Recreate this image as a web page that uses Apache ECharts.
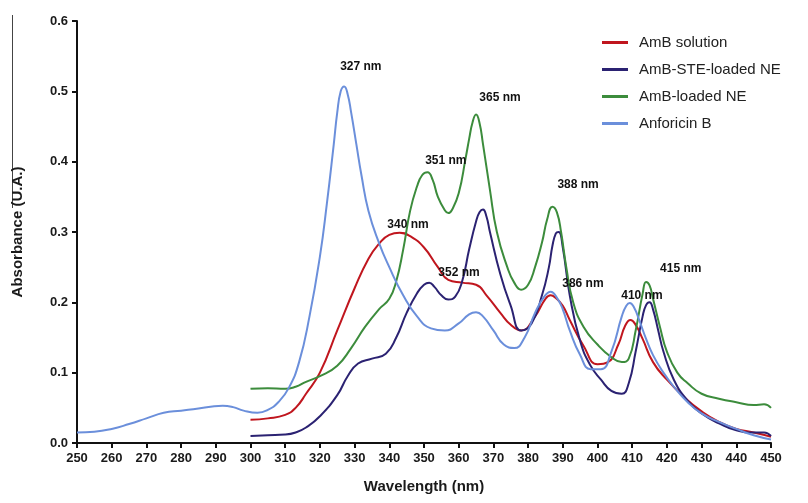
<!DOCTYPE html>
<html>
<head>
<meta charset="utf-8">
<script src="https://cdn.jsdelivr.net/npm/echarts@6/dist/echarts.min.js"></script>
<style>html,body{margin:0;padding:0;background:#fff;}#c{width:808px;height:503px;}</style>
</head>
<body>
<div id="c"></div>
<script>
var seriesNames = ['AmB solution', 'AmB-STE-loaded NE', 'AmB-loaded NE', 'Anforicin B'];
var seriesColors = ['#c0161e', '#2b2272', '#3c8c3c', '#6b8fdb'];

var ambSolution = [[300,0.033],[305,0.035],[310,0.04],[313,0.05],[316,0.07],[320,0.1],[325,0.16],[330,0.22],[334,0.262],[337,0.283],[340,0.296],[343,0.299],[346,0.294],[350,0.278],[354,0.25],[357,0.232],[361,0.228],[365,0.225],[368,0.21],[372,0.185],[375,0.168],[378,0.16],[382,0.18],[385,0.205],[386.5,0.21],[388,0.206],[390,0.195],[392,0.175],[396,0.138],[400,0.112],[403,0.115],[406,0.14],[408,0.167],[409.5,0.175],[411,0.168],[413,0.148],[416,0.115],[420,0.09],[425,0.065],[430,0.045],[435,0.03],[440,0.02],[445,0.015],[450,0.009]];
var ambSte = [[300,0.01],[305,0.011],[310,0.012],[313,0.015],[316,0.022],[320,0.038],[325,0.068],[328,0.095],[331,0.113],[335,0.12],[339,0.127],[342,0.15],[345,0.185],[348,0.213],[350,0.225],[351.5,0.228],[353,0.222],[355,0.21],[357,0.204],[359,0.208],[361,0.23],[363,0.275],[365,0.315],[366,0.328],[367,0.332],[368,0.322],[369,0.3],[372,0.24],[375,0.195],[378,0.16],[381,0.17],[384,0.21],[386,0.25],[387,0.28],[388,0.298],[388.8,0.3],[390,0.278],[392,0.21],[395,0.145],[398,0.11],[401,0.09],[404,0.074],[407,0.07],[409,0.085],[411,0.13],[413,0.18],[414,0.196],[415,0.2],[416,0.19],[417.5,0.16],[419,0.13],[422,0.09],[426,0.06],[430,0.042],[435,0.028],[440,0.018],[445,0.015],[448,0.015],[450,0.01]];
var ambNe = [[300,0.077],[305,0.078],[310,0.077],[313,0.08],[316,0.087],[320,0.095],[325,0.11],[329,0.135],[333,0.165],[337,0.19],[340,0.205],[342,0.23],[344,0.275],[346,0.33],[348,0.365],[349.5,0.381],[351,0.385],[352.5,0.374],[354,0.35],[356,0.331],[357,0.327],[358,0.331],[360,0.355],[362,0.405],[363,0.432],[364,0.456],[365,0.467],[366,0.455],[367,0.425],[369,0.36],[371,0.3],[374,0.25],[376,0.228],[378,0.218],[380,0.225],[382,0.25],[384,0.285],[385.5,0.318],[387,0.336],[388.3,0.328],[389.5,0.3],[391,0.25],[393,0.2],[396,0.165],[400,0.14],[404,0.122],[407,0.115],[409,0.12],[411,0.16],[413,0.212],[414,0.229],[415,0.224],[416,0.205],[418,0.165],[420,0.13],[423,0.1],[426,0.085],[430,0.07],[435,0.063],[440,0.058],[445,0.054],[448,0.055],[450,0.05]];
var anforicinB = [[250,0.015],[255,0.016],[260,0.02],[265,0.027],[270,0.035],[275,0.043],[280,0.046],[285,0.049],[289,0.052],[292,0.053],[295,0.051],[298,0.046],[302,0.043],[305,0.047],[308,0.058],[311,0.078],[314,0.115],[317,0.18],[320,0.265],[322,0.34],[324,0.425],[325,0.47],[326,0.5],[327,0.507],[328,0.496],[329,0.47],[330.5,0.425],[332,0.38],[334,0.33],[337,0.285],[340,0.25],[344,0.21],[348,0.18],[352,0.163],[356,0.16],[360,0.17],[363,0.183],[365,0.186],[367,0.18],[370,0.16],[373,0.14],[376,0.135],[379,0.15],[382,0.185],[384.5,0.207],[386.5,0.215],[388.5,0.205],[390,0.19],[392,0.16],[395,0.125],[398,0.105],[401,0.105],[404,0.13],[407,0.18],[408.3,0.195],[409.3,0.199],[410.5,0.193],[412,0.175],[414,0.148],[416,0.125],[419,0.1],[422,0.08],[426,0.058],[430,0.042],[435,0.03],[440,0.02],[445,0.011],[450,0.005]];

var annotations = [
  [331.8,0.535,'327 nm'],[371.9,0.491,'365 nm'],[356.3,0.401,'351 nm'],[394.4,0.367,'388 nm'],
  [345.4,0.31,'340 nm'],[360.1,0.242,'352 nm'],[395.8,0.226,'386 nm'],[412.8,0.209,'410 nm'],[424,0.248,'415 nm']
];

var xMin = 250, xMax = 450, xStep = 10;
var yMin = 0, yMax = 0.6, yStep = 0.1;

var allData = [ambSolution, ambSte, ambNe, anforicinB];
var series = allData.map(function (d, i) {
  return {
    name: seriesNames[i], type: 'line', data: d, smooth: 0.5, showSymbol: false, symbol: 'none',
    lineStyle: { color: seriesColors[i], width: 2 }, itemStyle: { color: seriesColors[i] }, z: 2
  };
});
series.push({
  name: 'ann', type: 'scatter', symbolSize: 0, silent: true,
  itemStyle: { opacity: 1 },
  data: annotations.map(function (a) { return { value: [a[0], a[1]], label: { formatter: a[2] } }; }),
  label: { show: true, position: 'inside', color: '#111', opacity: 1, fontSize: 12, fontWeight: 'bold', fontFamily: 'Liberation Sans, Arial, sans-serif' },
  z: 5
});

var chart = echarts.init(document.getElementById('c'));
chart.setOption({
  animation: false,
  backgroundColor: '#fff',
  grid: { left: 77, right: 37, top: 21, bottom: 60, containLabel: false },
  legend: {
    data: seriesNames, orient: 'vertical', left: 597, top: 30, itemGap: 12,
    itemWidth: 26, itemHeight: 3, icon: 'rect',
    textStyle: { fontSize: 15, color: '#222', fontFamily: 'Liberation Sans, Arial, sans-serif', padding: [0, 0, 0, 6] }
  },
  xAxis: {
    type: 'value', min: xMin, max: xMax, interval: xStep,
    name: 'Wavelength (nm)', nameLocation: 'middle', nameGap: 36,
    nameTextStyle: { fontSize: 15, fontWeight: 'bold', color: '#1a1a1a', fontFamily: 'Liberation Sans, Arial, sans-serif' },
    axisLine: { lineStyle: { color: '#111', width: 2 } },
    axisTick: { show: true, length: 5, lineStyle: { color: '#111', width: 2 } },
    axisLabel: { fontSize: 13, fontWeight: 'bold', color: '#1a1a1a', margin: 9, fontFamily: 'Liberation Sans, Arial, sans-serif' },
    splitLine: { show: false }
  },
  yAxis: {
    type: 'value', min: yMin, max: yMax, interval: yStep,
    name: 'Absorbance (U.A.)', nameLocation: 'middle', nameGap: 52,
    nameTextStyle: { fontSize: 15, fontWeight: 'bold', color: '#1a1a1a', fontFamily: 'Liberation Sans, Arial, sans-serif' },
    axisLine: { show: true, lineStyle: { color: '#111', width: 2 } },
    axisTick: { show: true, length: 5, lineStyle: { color: '#111', width: 2 } },
    axisLabel: { fontSize: 13, fontWeight: 'bold', color: '#1a1a1a', margin: 9, formatter: function (v) { return v.toFixed(1); }, fontFamily: 'Liberation Sans, Arial, sans-serif' },
    splitLine: { show: false }
  },
  graphic: [{ type: 'line', shape: { x1: 12.5, y1: 15, x2: 12.5, y2: 208 }, style: { stroke: '#444', lineWidth: 1 }, z: -1 }],
  series: series
});
</script>
</body>
</html>
